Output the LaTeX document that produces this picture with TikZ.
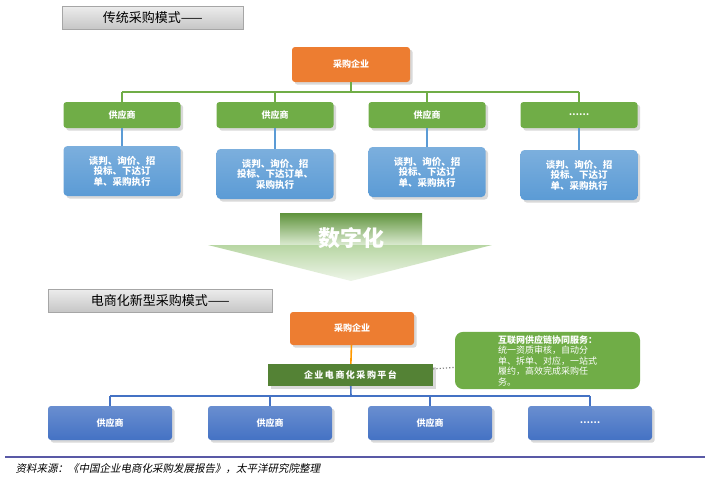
\documentclass[tikz,border=0pt]{standalone}
\usepackage{fontspec}
\setmainfont{Noto Sans CJK SC}
\newfontfamily\cjkslant[FakeSlant=0.2]{Noto Sans CJK SC}
\usetikzlibrary{shadows}
\definecolor{og}{HTML}{ED7D31}
\definecolor{gr}{HTML}{70AD47}
\definecolor{dg}{HTML}{548235}
\definecolor{bl}{HTML}{5B9BD5}
\definecolor{db}{HTML}{4472C4}
\tikzset{
 title/.style={draw=gray!70,top color=gray!15,bottom color=gray!45,minimum height=23pt,anchor=north west,font=\fontsize{13}{13}\selectfont,align=left,inner xsep=12pt},
 obox/.style={fill=og,rounded corners=3pt,text=white,font=\bfseries\fontsize{9}{10}\selectfont,drop shadow={opacity=0.3}},
 gbox/.style={fill=gr,rounded corners=3pt,text=white,font=\bfseries\fontsize{9}{10}\selectfont,minimum width=117pt,minimum height=26pt,drop shadow={opacity=0.3}},
 bbox/.style={top color=bl!80,bottom color=bl,draw=none,rounded corners=4pt,text=white,font=\bfseries\fontsize{9.5}{10.5}\selectfont,minimum width=117pt,minimum height=50pt,align=center,drop shadow={opacity=0.3}},
 sbox/.style={top color=db!80,bottom color=db,rounded corners=3pt,text=white,font=\bfseries\fontsize{9}{10}\selectfont,minimum width=124pt,minimum height=34pt,drop shadow={opacity=0.3}},
 gline/.style={gr,line width=1.6pt},
 bline/.style={bl,line width=1.6pt},
}
\begin{document}
\begin{tikzpicture}[x=1pt,y=-1pt]
\useasboundingbox (0,0) rectangle (710,479);
\node[title,minimum width=181pt] (t1) at (62,6) {传统采购模式——};
\node[obox,minimum width=118pt,minimum height=35pt] (o1) at (351,64.5) {采购企业};
\coordinate (hb) at (351,92);
\foreach \i/\x/\t in {1/122/供应商,2/275/供应商,3/427/供应商,4/579/……}{
  \node[gbox] (g\i) at (\x,115) {\t};
  \coordinate (h\i) at (\x,92);
}
\node[bbox] (b1) at (122,171) {谈判、询价、招\\投标、下达订\\单、采购执行};
\node[bbox] (b2) at (275,174) {谈判、询价、招\\投标、下达订单、\\采购执行};
\node[bbox] (b3) at (427,172) {谈判、询价、招\\投标、下达订\\单、采购执行};
\node[bbox] (b4) at (579,175) {谈判、询价、招\\投标、下达订\\单、采购执行};
\draw[gline] (o1) -- (hb);
\draw[gline] (h1) -- (h4);
\foreach \i in {1,...,4}{\draw[gline] (h\i) -- (g\i);\draw[bline] (g\i) -- (b\i);}
% arrow
\shade[top color=gr!85!black,bottom color=gr!25] (280,213) rectangle (422,245);
\shade[top color=gr!50,bottom color=gr!12] (208,245) -- (492,245) -- (351,281) -- cycle;
\node[text=white,font=\bfseries\fontsize{22}{22}\selectfont] (dz) at (351,238) {数字化};
\node[title,minimum width=224pt] (t2) at (48,289) {电商化新型采购模式——};
\node[obox,minimum width=124pt,minimum height=33pt] (o2) at (352,328.5) {采购企业};
\node[fill=dg,text=white,font=\bfseries\fontsize{9}{10}\selectfont,minimum width=165pt,minimum height=22pt,drop shadow={opacity=0.3}] (pf) at (350.5,375) {企\,业\,电\,商\,化\,采\,购\,平\,台};
\node[fill=gr,rounded corners=8pt,text=white,font=\fontsize{9}{10.5}\selectfont,minimum width=185pt,minimum height=55pt,align=left] (info) at (547.5,360.5) {\textbf{互联网供应链协同服务：}\\统一资质审核，自动分\\单、拆单、对应，一站式\\履约，高效完成采购任\\务。};
\draw[gray,line width=1.2pt,dotted] (pf) -- (info);
\draw[orange!80!yellow,line width=1.6pt] (o2) -- (pf);
\coordinate (hb2) at (351,396);
\draw[db,line width=1.6pt] (pf) -- (hb2);
\foreach \i/\x/\t in {1/110/供应商,2/270/供应商,3/430/供应商,4/590/……}{
  \node[sbox] (s\i) at (\x,423) {\t};
  \coordinate (k\i) at (\x,396);
}
\draw[db,line width=1.6pt] (k1) -- (k4);
\foreach \i in {1,...,4}{\draw[db,line width=1.6pt] (k\i) -- (s\i);}
\draw[gray!70!blue,line width=1.5pt] (5,457) -- (705,457);
\node[anchor=west,font=\cjkslant\fontsize{10.5}{11}\selectfont] (src) at (12,469) {资料来源：《中国企业电商化采购发展报告》，太平洋研究院整理};
\end{tikzpicture}
\end{document}
